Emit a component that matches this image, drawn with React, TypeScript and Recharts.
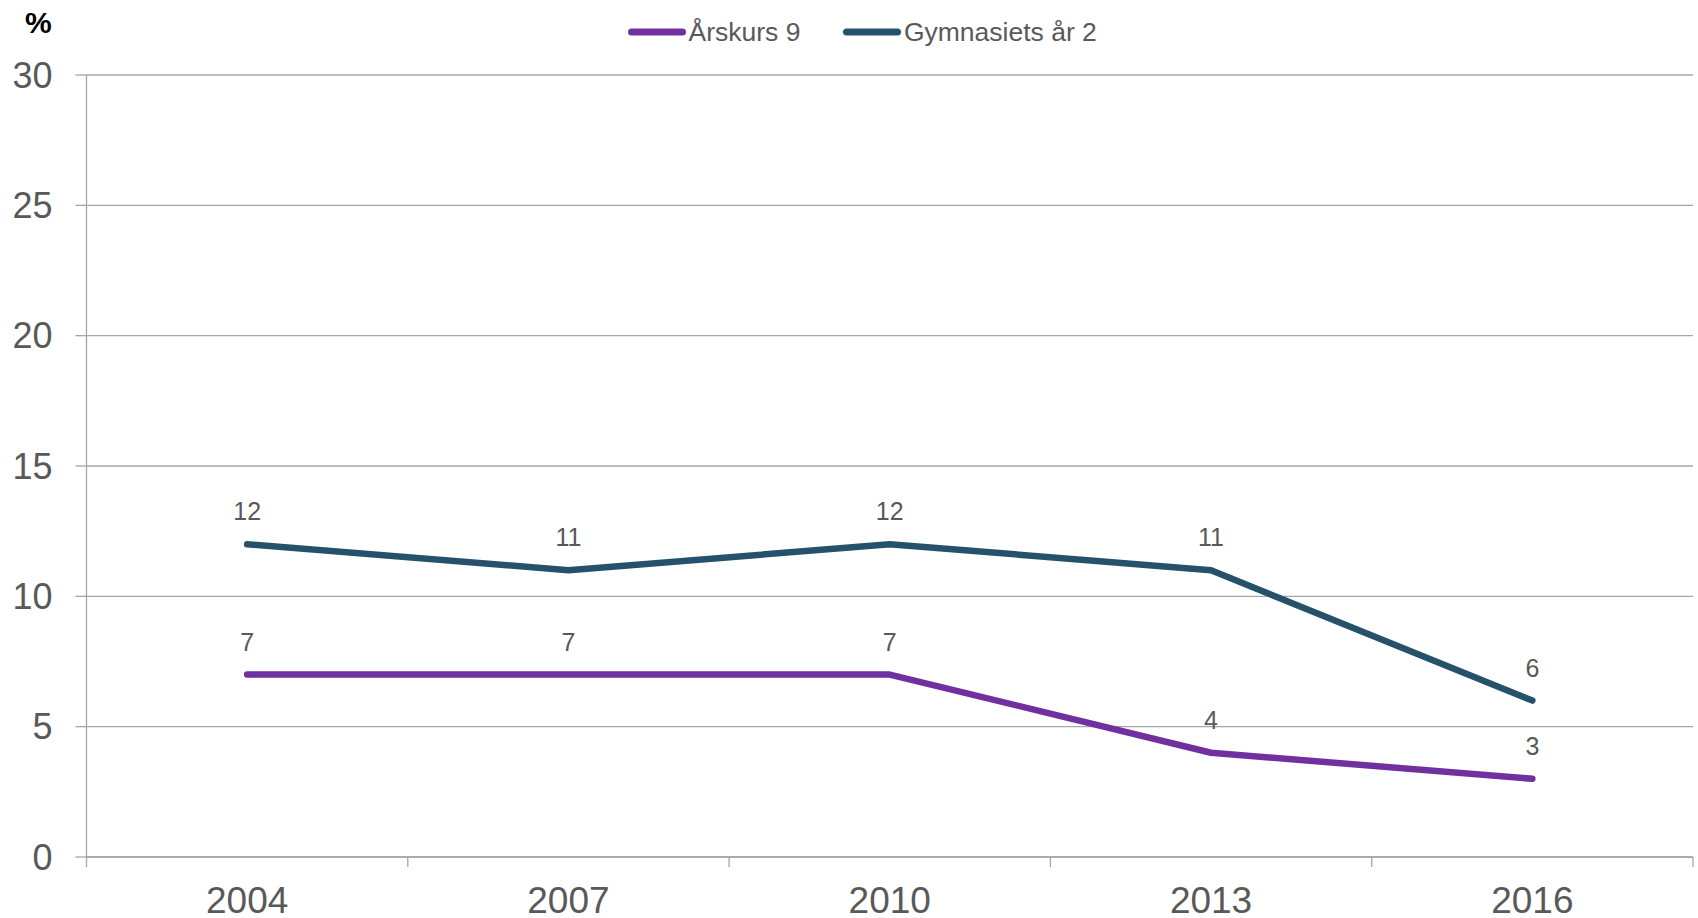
import React from 'react';
import { LineChart, Line, XAxis, YAxis, CartesianGrid, LabelList, Legend } from 'recharts';

const years = ['2004', '2007', '2010', '2013', '2016'];
const arskurs9 = [7, 7, 7, 4, 3];
const gymnasiets = [12, 11, 12, 11, 6];
const yTicks = [0, 5, 10, 15, 20, 25, 30];
const seriesNames = ['Årskurs 9', 'Gymnasiets år 2'];
const seriesKeys = ['a', 'g'];
const seriesColors = ['#7030A0', '#26516A'];

const data = years.map((year, i) => ({ x: i + 0.5, year, a: arskurs9[i], g: gymnasiets[i] }));

const xTicks: number[] = [];
years.forEach((_, i) => {
  xTicks.push(i, i + 0.5);
});
xTicks.push(years.length);

const GRID = '#A6A6A6';
const TEXT = '#595959';
const X_TICK_SIZE = 6;
const X_TICK_MARGIN = 24;
const FONT = '"Liberation Sans", Arial, Helvetica, sans-serif';

function XTick(props: any) {
  const { x, y, payload } = props;
  const v = payload.value as number;
  if (Number.isInteger(v)) {
    const axisY = y - X_TICK_SIZE - X_TICK_MARGIN;
    return <line x1={x} x2={x} y1={axisY} y2={axisY + 10} stroke={GRID} strokeWidth={1.3} />;
  }
  const label = years[Math.floor(v)];
  return (
    <text x={x} y={y} dy="0.71em" textAnchor="middle" fill={TEXT} fontSize={37} fontFamily={FONT}>
      {label}
    </text>
  );
}

function LegendContent() {
  return (
    <div style={{ display: 'flex', alignItems: 'center', fontFamily: FONT, fontSize: 26.5, color: TEXT, whiteSpace: 'nowrap' }}>
      {seriesNames.map((name, i) => (
        <div key={name} style={{ display: 'flex', alignItems: 'center', marginRight: i === 0 ? 43 : 0 }}>
          <svg width={58} height={10} style={{ display: 'block', marginTop: -1 }}>
            <line x1={3.5} x2={54.5} y1={5} y2={5} stroke={seriesColors[i]} strokeWidth={7} strokeLinecap="round" />
          </svg>
          <span style={{ marginLeft: 2.5, lineHeight: 'normal' }}>{name}</span>
        </div>
      ))}
    </div>
  );
}

export default function App() {
  return (
    <div style={{ position: 'absolute', left: 0, top: 0, width: 1698, height: 918, background: '#fff', fontFamily: FONT }}>
      <LineChart width={1698} height={918} data={data} margin={{ top: 75, right: 5, left: 0, bottom: 0 }}>
        <CartesianGrid horizontal vertical={false} stroke={GRID} strokeWidth={1.3} />
        <XAxis
          dataKey="x"
          type="number"
          domain={[0, years.length]}
          ticks={xTicks}
          interval={0}
          height={61}
          tickLine={false}
          tickSize={X_TICK_SIZE}
          tickMargin={X_TICK_MARGIN}
          axisLine={{ stroke: GRID, strokeWidth: 1.3 }}
          tick={<XTick />}
        />
        <YAxis
          type="number"
          domain={[0, 30]}
          ticks={yTicks}
          interval={0}
          width={86.5}
          tickSize={11}
          tickMargin={23}
          axisLine={{ stroke: GRID, strokeWidth: 1.3 }}
          tickLine={{ stroke: GRID, strokeWidth: 1.3 }}
          tick={{ fill: TEXT, fontSize: 36, fontFamily: FONT }}
          label={{ value: '%', position: 'top', offset: 42, dx: -5, fill: '#000', fontSize: 30, fontWeight: 'bold', fontFamily: FONT }}
        />
        <Legend
          verticalAlign="middle"
          align="center"
          layout="horizontal"
          wrapperStyle={{ top: 16.5, left: 628, width: 600, height: 31 }}
          content={() => <LegendContent />}
        />
        {seriesKeys.map((k, i) => (
          <Line
            key={k}
            type="linear"
            dataKey={k}
            name={seriesNames[i]}
            stroke={seriesColors[i]}
            strokeWidth={6.5}
            strokeLinecap="round"
            strokeLinejoin="round"
            dot={false}
            activeDot={false}
            isAnimationActive={false}
          >
            <LabelList dataKey={k} position="top" offset={24} fill={TEXT} fontSize={25} fontFamily={FONT} />
          </Line>
        ))}
      </LineChart>
    </div>
  );
}
